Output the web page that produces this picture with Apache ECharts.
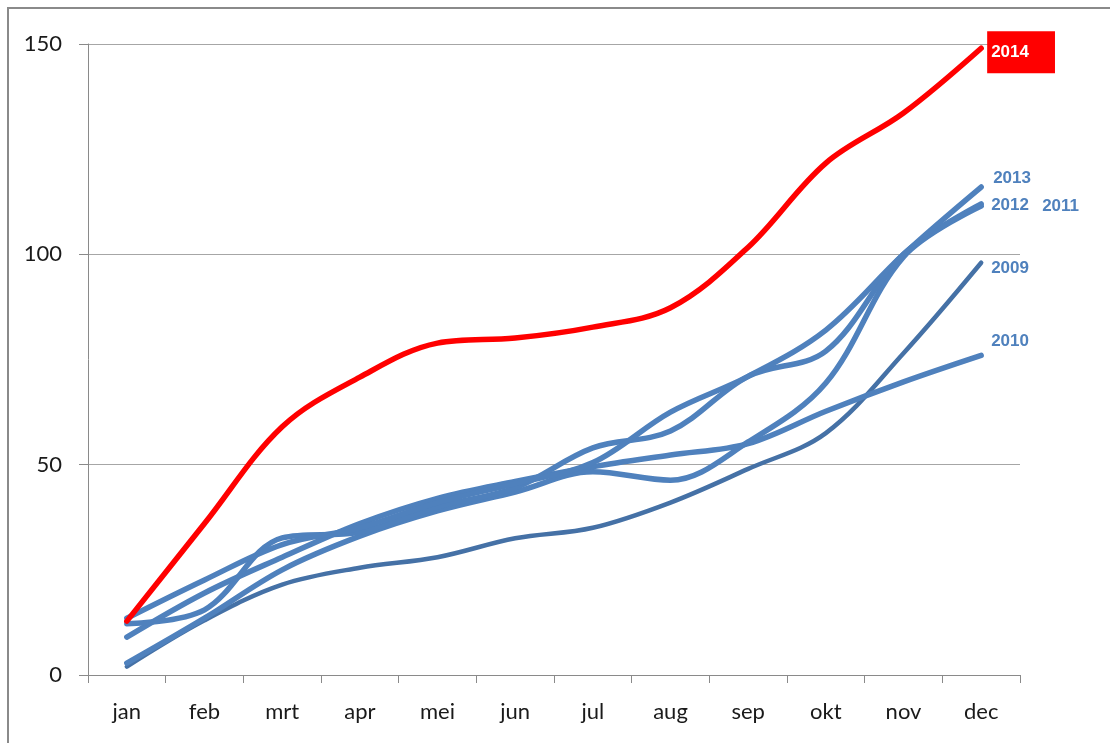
<!DOCTYPE html>
<html>
<head>
<meta charset="utf-8">
<script src="https://cdn.jsdelivr.net/npm/echarts@6/dist/echarts.min.js"></script>
<style>
html,body{margin:0;padding:0;background:#fff;}
#chart{width:1110px;height:743px;}
</style>
</head>
<body>
<div id="chart"></div>
<script>
// ---- data ----
var months = ['jan','feb','mrt','apr','mei','jun','jul','aug','sep','okt','nov','dec'];
var yTicks = [0, 50, 100, 150];
var s2009 = [2, 13, 21.5, 25.5, 28, 32.5, 35, 41, 49, 57.5, 76.5, 98];
var s2010 = [9, 19.5, 28, 36, 42, 46, 49.5, 52.3, 55, 62.7, 69.7, 76];
var s2011 = [2.8, 13.5, 25, 33, 39, 43.5, 48.3, 46.3, 55.4, 69.4, 99.4, 111.5];
var s2012 = [12.2, 15.5, 32.6, 34, 40, 44.5, 54, 58, 71, 77, 100, 112];
var s2013 = [13.5, 22.6, 31, 35, 41, 45.5, 50.5, 62.5, 71, 82, 100, 116];
var s2014 = [12.8, 36, 59, 70.8, 78.9, 80.1, 82.7, 87.3, 101.7, 121.7, 133.6, 149];

var BLUE = '#4f81bd';
var DARK = '#4571a6';
var RED = '#ff0000';
var SMOOTH = 0.35;

function blueSeries(name, data, color, width, offset) {
  return {
    name: name, type: 'line', data: data, smooth: SMOOTH, showSymbol: false,
    lineStyle: {color: color, width: width, cap: 'round', join: 'round'},
    itemStyle: {color: color},
    emphasis: {disabled: true},
    endLabel: {
      show: true, formatter: name, distance: 8, offset: offset,
      color: BLUE, fontFamily: 'Liberation Sans, Arial, sans-serif',
      fontWeight: 'bold', fontSize: 17
    }
  };
}

var chart = echarts.init(document.getElementById('chart'), null, {renderer: 'canvas'});
chart.setOption({
  animation: false,
  backgroundColor: '#ffffff',
  graphic: [{
    type: 'rect', shape: {x: 8, y: 8, width: 1200, height: 800},
    style: {fill: 'none', stroke: '#8a8a8a', lineWidth: 2}, silent: true, z: -10
  }],
  grid: {left: 88, right: 90, top: 44, bottom: 68, containLabel: false},
  xAxis: {
    type: 'category', data: months, boundaryGap: true,
    axisLine: {lineStyle: {color: '#8a8a8a', width: 1}},
    axisTick: {show: true, length: 8, lineStyle: {color: '#8a8a8a'}},
    axisLabel: {color: '#1a1a1a', fontFamily: 'Lato, sans-serif', fontSize: 22, margin: 26}
  },
  yAxis: {
    type: 'value', min: yTicks[0], max: yTicks[yTicks.length - 1], interval: 50,
    axisLine: {show: true, lineStyle: {color: '#8a8a8a', width: 1}},
    axisTick: {show: true, length: 9, lineStyle: {color: '#8a8a8a'}},
    splitLine: {show: true, lineStyle: {color: '#a6a6a6', width: 1}},
    axisLabel: {color: '#1a1a1a', fontFamily: 'Lato, sans-serif', fontSize: 22, margin: 26}
  },
  series: [
    blueSeries('2009', s2009, DARK, 4.5, [2, 6]),
    blueSeries('2010', s2010, BLUE, 5.5, [2, -14]),
    blueSeries('2011', s2011, BLUE, 5.5, [53, 0]),
    blueSeries('2012', s2012, BLUE, 5.5, [2, 1]),
    blueSeries('2013', s2013, BLUE, 5.5, [4, -9]),
    {
      name: '2014', type: 'line', data: s2014, smooth: SMOOTH, showSymbol: false,
      lineStyle: {color: RED, width: 5.5, cap: 'round', join: 'round'},
      itemStyle: {color: RED},
      emphasis: {disabled: true},
      endLabel: {
        show: true, formatter: '2014', distance: 6, offset: [0, 4],
        color: '#ffffff', backgroundColor: RED,
        fontFamily: 'Liberation Sans, Arial, sans-serif', fontWeight: 'bold', fontSize: 17,
        lineHeight: 18, padding: [6, 26, 18, 4]
      }
    }
  ]
});
</script>
</body>
</html>
